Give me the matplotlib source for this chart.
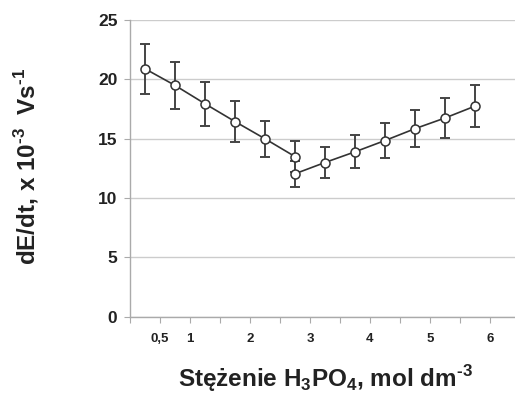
import matplotlib
matplotlib.use("Agg")
import matplotlib.pyplot as plt

plt.rcParams['font.family'] = ['Liberation Sans', 'DejaVu Sans']
plt.rcParams['mathtext.fontset'] = 'custom'
plt.rcParams['mathtext.rm'] = 'Liberation Sans'
plt.rcParams['mathtext.bf'] = 'Liberation Sans:bold'

# series 1 (decreasing branch) and series 2 (increasing branch)
x1 = [0.25, 0.75, 1.25, 1.75, 2.25, 2.75]
y1 = [20.9, 19.5, 17.95, 16.45, 15.0, 13.5]
e1 = [2.1, 1.95, 1.85, 1.7, 1.5, 1.3]

x2 = [2.75, 3.25, 3.75, 4.25, 4.75, 5.25, 5.75]
y2 = [12.05, 13.0, 13.9, 14.85, 15.85, 16.75, 17.75]
e2 = [1.1, 1.3, 1.4, 1.5, 1.55, 1.65, 1.75]

tick_pos = [0.5, 1, 2, 3, 4, 5, 6]
tick_lab = ['0,5', '1', '2', '3', '4', '5', '6']
yticks = [0, 5, 10, 15, 20, 25]

fig = plt.figure(figsize=(5.15, 3.94), dpi=100)
ax = fig.add_axes([0.2524, 0.196, 0.7476, 0.753])

for xs, ys, es in [(x1, y1, e1), (x2, y2, e2)]:
    ax.errorbar(xs, ys, yerr=es, fmt='none', ecolor='#444444', elinewidth=1.4,
                capsize=3.5, capthick=1.4, zorder=2)
    ax.plot(xs, ys, color='#333333', lw=1.2, marker='o', ms=6.5,
            mfc='white', mec='#333333', mew=1.1, zorder=3)

ax.set_xlim(0, 6.417)
ax.set_ylim(0, 25)
ax.set_yticks(yticks)
ax.set_yticklabels([str(v) for v in yticks], fontsize=12.5, fontweight='bold',
                   color='#222222')
ax.set_xticks([i * 0.5 for i in range(13)])
ax.set_xticklabels([])
for p, l in zip(tick_pos, tick_lab):
    ax.text(p, -1.9, l, ha='center', va='center', fontsize=9.5, fontweight='bold',
            color='#222222')

ax.grid(axis='y', color='#cccccc', lw=1.0)
ax.set_axisbelow(True)
for s in ['top', 'right']:
    ax.spines[s].set_visible(False)
for s in ['left', 'bottom']:
    ax.spines[s].set_color('#aaaaaa')
    ax.spines[s].set_linewidth(1.0)
ax.tick_params(axis='x', direction='out', length=4, color='#aaaaaa')
ax.tick_params(axis='y', direction='out', length=4, color='#aaaaaa', pad=5)

fig.text(0.052, 0.577, 'dE/dt, x 10$^{\\mathbf{\u20103}}$  Vs$^{\\mathbf{\u20101}}$', rotation=90,
         ha='center', va='center', fontsize=17.5, fontweight='bold', color='#222222')
fig.text(0.632, 0.04, 'Stężenie H$_{\\mathbf{3}}$PO$_{\\mathbf{4}}$, mol dm$^{\\mathbf{\u20103}}$',
         ha='center', va='center', fontsize=17.5, fontweight='bold', color='#222222')

fig.savefig('out.png', dpi=100)
